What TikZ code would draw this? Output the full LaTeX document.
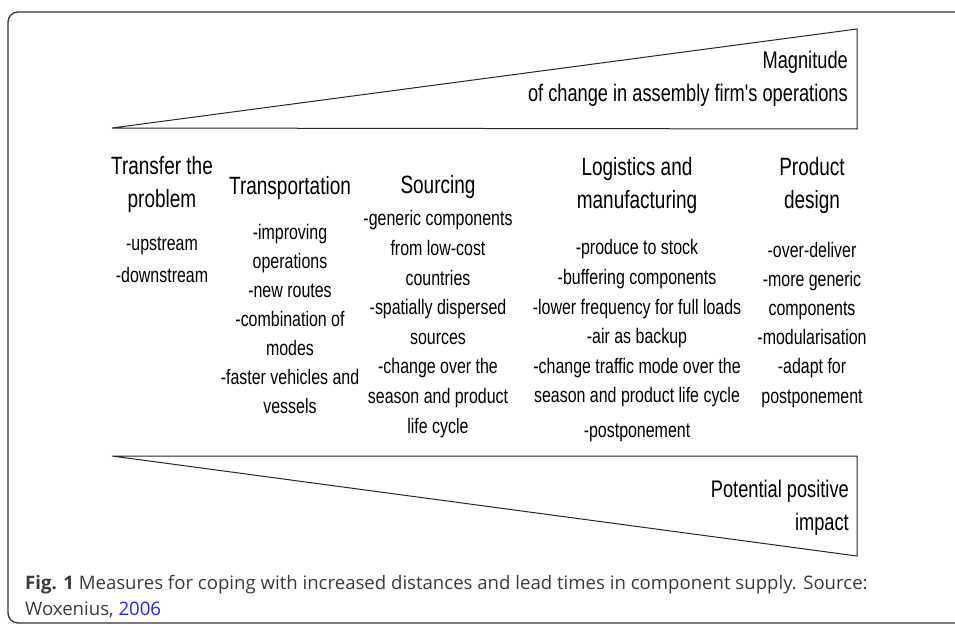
\documentclass[tikz,border=0pt]{standalone}
\usepackage{fontspec}
\setmainfont{Liberation Sans}
\newfontfamily\narrowsf{Liberation Sans}[FakeStretch=0.76]
\newfontfamily\capfont{Open Sans}
\usetikzlibrary{positioning}
\definecolor{capgray}{HTML}{3A3A3A}
\definecolor{linkblue}{HTML}{2222EE}

\begin{document}
\begin{tikzpicture}[x=1pt,y=-1pt,
    myhead/.style={
    align=center,
    inner sep=0pt,
    anchor=base,
    font=\narrowsf\fontsize{25}{33}\selectfont},
    mybody/.style={
    align=center,
    inner sep=0pt,
    anchor=base,
    font=\narrowsf\fontsize{21}{29.6}\selectfont},
    mylabel/.style={
    align=right,
    inner sep=0pt,
    anchor=base east,
    font=\narrowsf\fontsize{24}{33}\selectfont},
    mywedge/.style={draw=black!85, line width=1pt, line join=miter}
    ]
    \useasboundingbox (0,0) rectangle (955,626);
    % outer frame
    \begin{scope}
    \clip (0,0) rectangle (955,626);
    \draw[black!80, line width=1.3pt, rounded corners=10pt] (8,12) rectangle (1000,623);
    \end{scope}

    % wedges
    \coordinate (mtip) at (112,128);
    \coordinate (mtop) at (857,29);
    \coordinate (mbot) at (857,129);
    \draw[mywedge] (mtip) -- (mtop) -- (mbot) -- cycle;
    \coordinate (ptip) at (112,456);
    \coordinate (ptop) at (857,456);
    \coordinate (pbot) at (857,556);
    \draw[mywedge] (ptip) -- (ptop) -- (pbot) -- cycle;

    % (base = baseline of the last line)
    \node[mylabel] (magn) at (848,101) {Magnitude\\of change in assembly firm's operations};
    \node[mylabel] (impact) at (849,530) {Potential positive\\impact};

    % headings
    \node[myhead] (transfer) at (162,207) {Transfer the\\problem};
    \node[myhead] (transport) at (290,194) {Transportation};
    \node[myhead] (sourcing) at (438,193) {Sourcing};
    \node[myhead] (logistics) at (637,208) {Logistics and\\manufacturing};
    \node[myhead] (design) at (812,208) {Product\\design};

    % measures
    \node[mybody, font=\narrowsf\fontsize{21}{32}\selectfont] (transferm) at (162,282) {-upstream\\-downstream};
    \node[mybody, font=\narrowsf\fontsize{21}{29}\selectfont] (transportm) at (290,413)
        {-improving\\operations\\-new routes\\-combination of\\modes\\-faster vehicles and\\vessels};
    \node[mybody] (sourcingm) at (438,433)
        {-generic components\\from low-cost\\countries\\-spatially dispersed\\sources\\-change over the\\season and product\\life cycle};
    \node[mybody] (logisticsm) at (637,437)
        {-produce to stock\\-buffering components\\-lower frequency for full loads\\-air as backup\\-change traffic mode over the\\season and product life cycle\\[4.5pt]-postponement};
    \node[mybody, font=\narrowsf\fontsize{21}{29.2}\selectfont] (designm) at (812,403)
        {-over-deliver\\-more generic\\components\\-modularisation\\-adapt for\\postponement};

    % caption
    \node[anchor=base west, align=left, inner sep=0pt, text=capgray,
        font=\capfont\fontsize{18.6}{26}\selectfont] (caption) at (25,615)
        {{\bfseries Fig. 1} Measures for coping with increased distances and lead times in component supply. Source:\\Woxenius, \textcolor{linkblue}{2006}};
\end{tikzpicture}
\end{document}
